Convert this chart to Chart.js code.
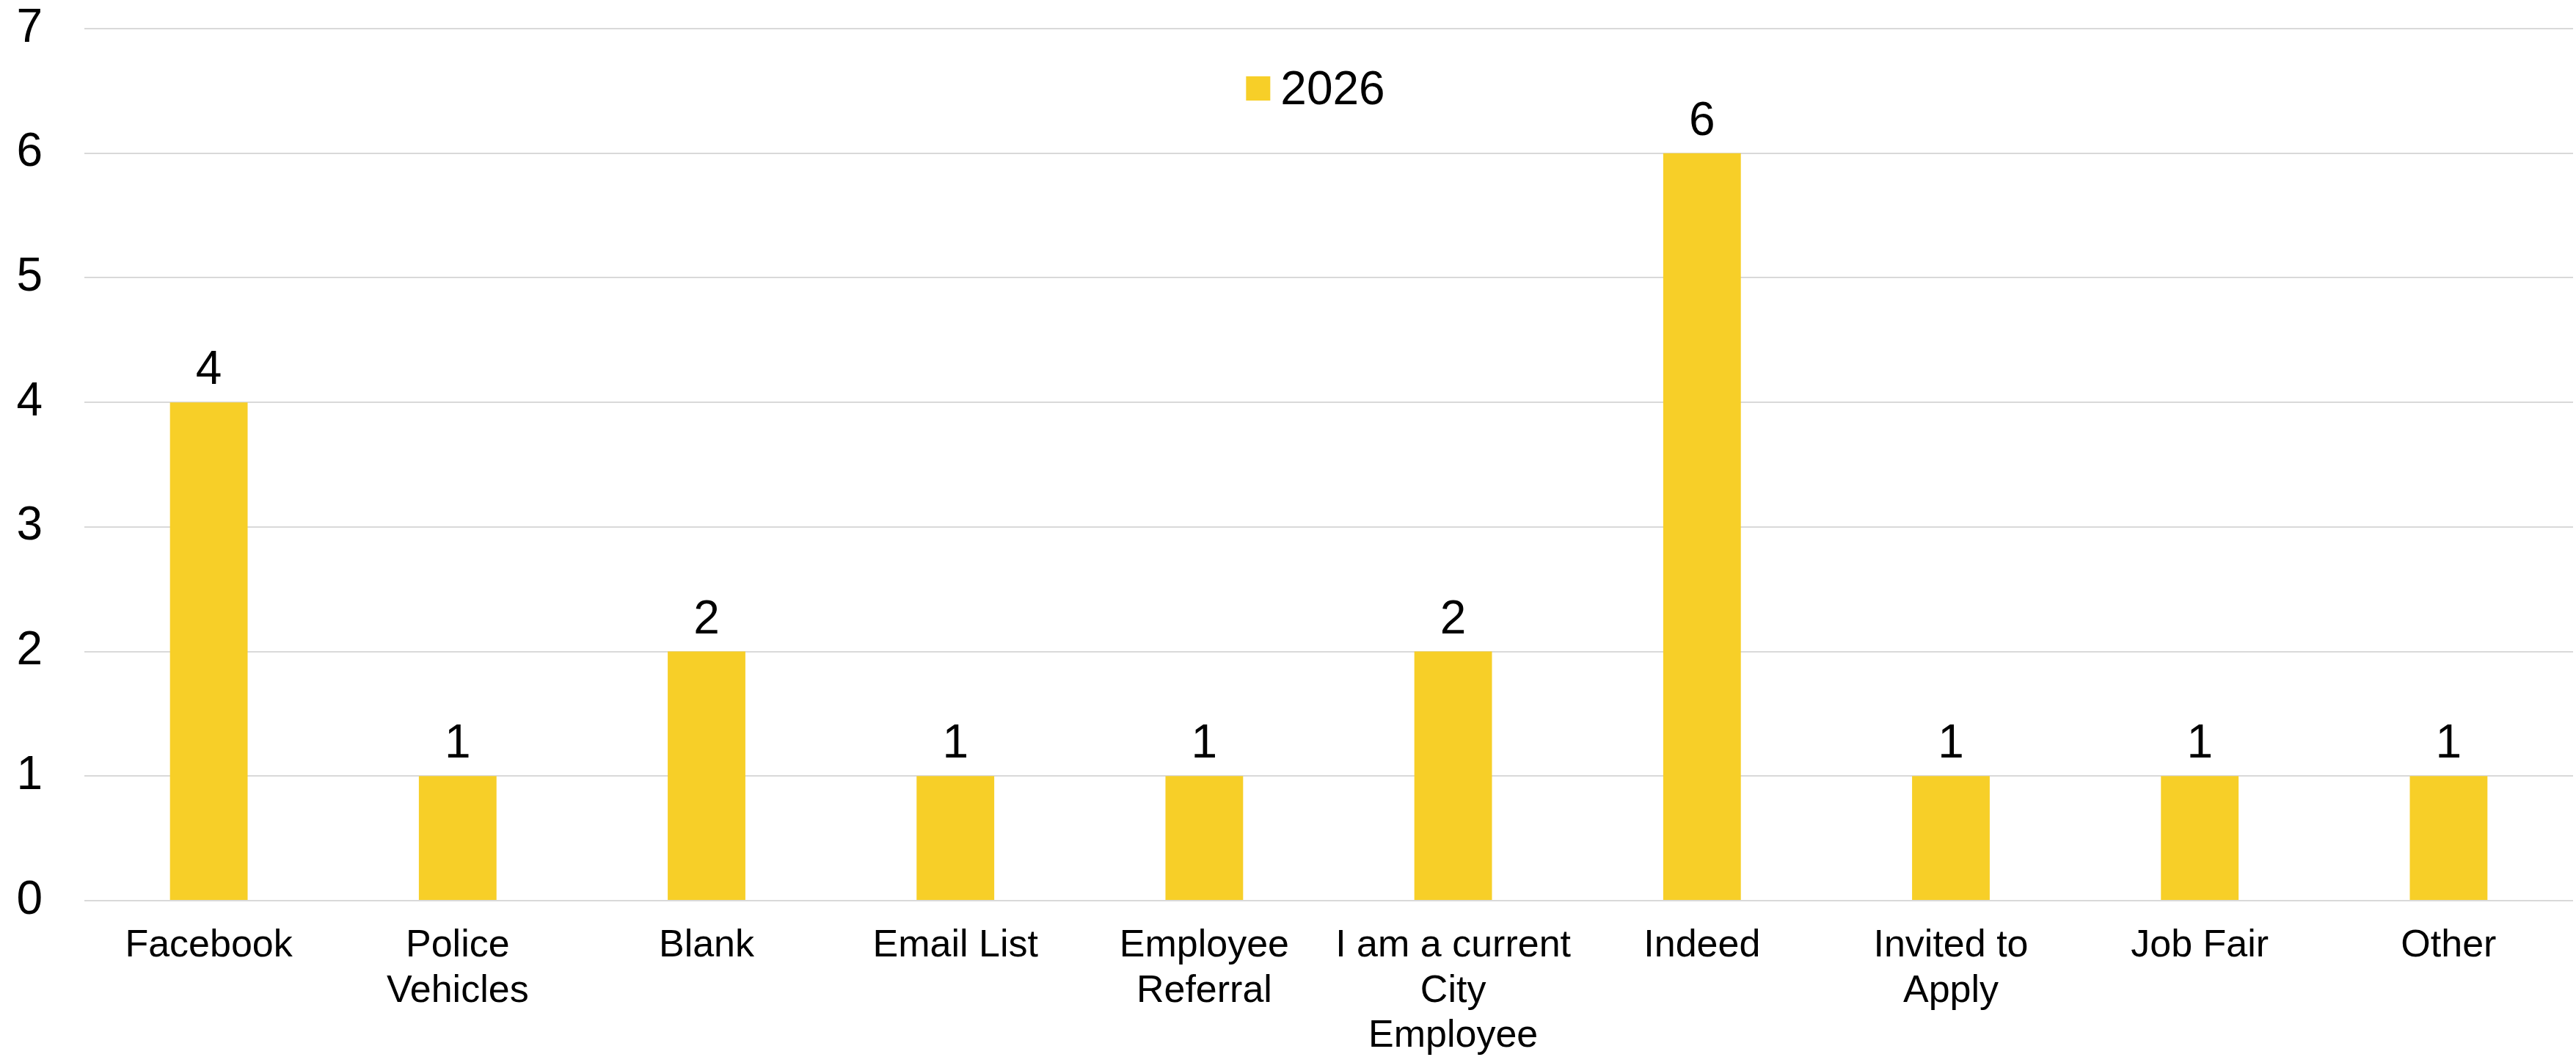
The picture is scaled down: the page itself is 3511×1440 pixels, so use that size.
<!DOCTYPE html>
<html>
<head>
<meta charset="utf-8">
<title>Referral source 2026</title>
<script src="https://cdn.jsdelivr.net/npm/chart.js@4.4.1/dist/chart.umd.min.js"></script>
<style>
  html, body { margin: 0; padding: 0; background: #fff; overflow: hidden; }
  #wrap { width: 3511px; height: 1440px; position: relative; }
</style>
</head>
<body>
<div id="wrap"><canvas id="chart"></canvas></div>
<script>
// chart data
const categories = [
  'Facebook',
  ['Police', 'Vehicles'],
  'Blank',
  'Email List',
  ['Employee', 'Referral'],
  ['I am a current', 'City', 'Employee'],
  'Indeed',
  ['Invited to', 'Apply'],
  'Job Fair',
  'Other'
];
const values2026 = [4, 1, 2, 1, 1, 2, 6, 1, 1, 1];
const seriesName = '2026';
const yTicks = [0, 1, 2, 3, 4, 5, 6, 7];

const barColor = '#F7CF28';
const gridColor = '#D9D9D9';
const fontFamily = "'Liberation Sans', Arial, sans-serif";

Chart.defaults.font.family = fontFamily;
Chart.defaults.color = '#000';

// numbers above the bars
const valueLabels = {
  id: 'valueLabels',
  afterDatasetsDraw(chart) {
    const ctx = chart.ctx;
    const ds = chart.data.datasets[0];
    ctx.save();
    ctx.font = '64px ' + fontFamily;
    ctx.fillStyle = '#000';
    ctx.textAlign = 'center';
    ctx.textBaseline = 'alphabetic';
    chart.getDatasetMeta(0).data.forEach((bar, i) => {
      ctx.fillText(String(ds.data[i]), bar.x, bar.y - 25);
    });
    ctx.restore();
  }
};

// legend drawn inside the plot area, near the top
const insideLegend = {
  id: 'insideLegend',
  afterDraw(chart) {
    const ctx = chart.ctx;
    const area = chart.chartArea;
    const ds = chart.data.datasets[0];
    const box = 33, gap = 14;
    ctx.save();
    ctx.font = '64px ' + fontFamily;
    const textW = ctx.measureText(ds.label).width;
    const total = box + gap + textW;
    const cx = area.left + area.width * 0.4947;
    const x = cx - total / 2;
    const y = area.top + 65;
    ctx.fillStyle = ds.backgroundColor;
    ctx.fillRect(x, y, box, box);
    ctx.fillStyle = '#000';
    ctx.textAlign = 'left';
    ctx.textBaseline = 'alphabetic';
    ctx.fillText(ds.label, x + box + gap, y + 38);
    ctx.restore();
  }
};

new Chart(document.getElementById('chart'), {
  type: 'bar',
  data: {
    labels: categories,
    datasets: [{
      label: seriesName,
      data: values2026,
      backgroundColor: barColor,
      borderWidth: 0,
      barPercentage: 0.312,
      categoryPercentage: 1
    }]
  },
  options: {
    responsive: true,
    maintainAspectRatio: false,
    animation: false,
    layout: {
      padding: { left: 22, right: 4, top: 39, bottom: 0 }
    },
    plugins: {
      legend: { display: false },
      tooltip: { enabled: false }
    },
    scales: {
      x: {
        grid: { display: false, drawTicks: false },
        border: { display: false },
        ticks: {
          autoSkip: false,
          maxRotation: 0,
          minRotation: 0,
          padding: 31,
          color: '#000',
          font: { size: 52, lineHeight: 1.185 }
        },
        afterFit(axis) {
          // three label lines reach the bottom edge, as in the original
          axis.height = 213;
          axis.paddingLeft = 0;
          axis.paddingRight = 0;
        }
      },
      y: {
        min: 0,
        max: 7,
        afterBuildTicks(axis) {
          axis.ticks = yTicks.map(v => ({ value: v }));
        },
        grid: { color: gridColor, lineWidth: 2, drawTicks: false },
        border: { display: false },
        ticks: {
          padding: 57,
          color: '#000',
          font: { size: 64, lineHeight: 1.2 }
        },
        afterFit(axis) {
          axis.width = 93;
          axis.paddingTop = 0;
          axis.paddingBottom = 0;
        }
      }
    }
  },
  plugins: [valueLabels, insideLegend]
});
</script>
</body>
</html>
